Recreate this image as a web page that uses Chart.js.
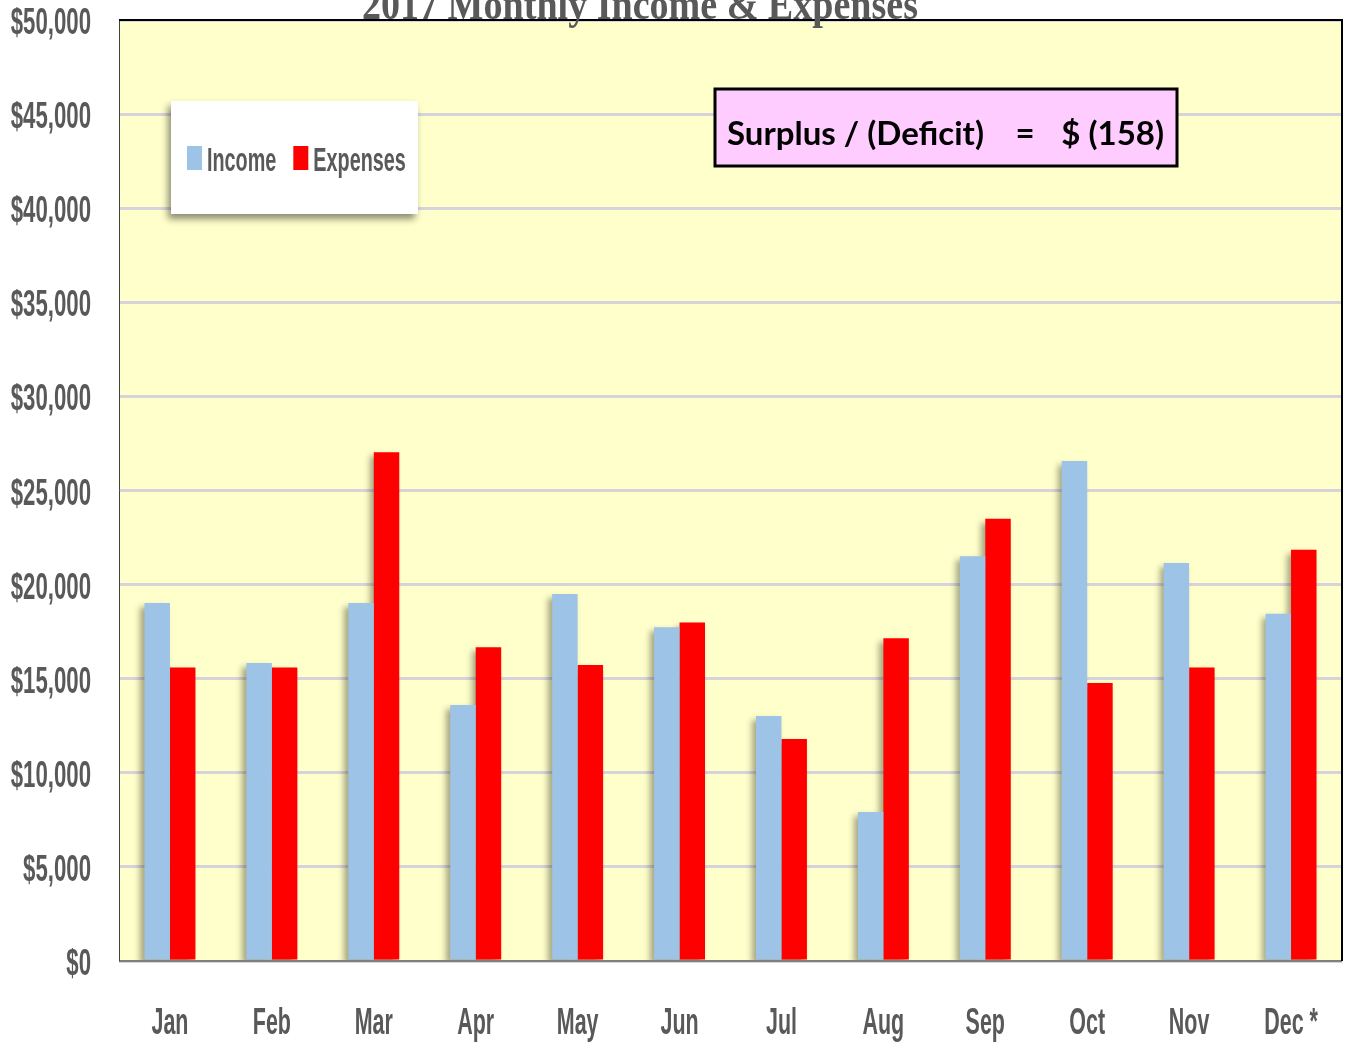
<!DOCTYPE html>
<html>
<head>
<meta charset="utf-8">
<script src="https://cdn.jsdelivr.net/npm/chart.js@4.4.0/dist/chart.umd.min.js"></script>
<style>
  body { margin: 0; background: #fff; }
  #wrap { width: 1345px; height: 1042px; position: relative; }
</style>
</head>
<body>
<div id="wrap"><canvas id="chart" width="1345" height="1042"></canvas></div>
<script>
// data
const months = ["Jan", "Feb", "Mar", "Apr", "May", "Jun", "Jul", "Aug", "Sep", "Oct", "Nov", "Dec *"];
const income = [19020, 15830, 19020, 13600, 19500, 17730, 13020, 7920, 21500, 26570, 21150, 18450];
const expenses = [15600, 15600, 27030, 16670, 15730, 17980, 11800, 17150, 23500, 14770, 15600, 21850];
const yMax = 50000;
const yStep = 5000;
const titleText = "2017 Monthly Income & Expenses";
const noteLeft = "Surplus / (Deficit)";
const noteRight = "$ (158)";

const GRAY = "#595959";
const LABEL_FONT = "'Liberation Sans', Arial, sans-serif";

// condensed text helper (the original uses a tall narrow face)
function squeezeText(ctx, txt, x, y, align, size, sx, weight) {
  ctx.save();
  ctx.font = (weight || "bold") + " " + size + "px " + LABEL_FONT;
  const w = ctx.measureText(txt).width * sx;
  let left = x;
  if (align === "center") left = x - w / 2;
  if (align === "right") left = x - w;
  ctx.translate(left, y);
  ctx.scale(sx, 1);
  ctx.textAlign = "left";
  ctx.textBaseline = "alphabetic";
  ctx.fillText(txt, 0, 0);
  ctx.restore();
}

// background + bar shadows
const plotBg = {
  id: "plotBg",
  beforeDraw(chart) {
    const { ctx, chartArea: a } = chart;
    ctx.save();
    ctx.fillStyle = "#FFFFCC";
    ctx.fillRect(a.left, a.top, a.right - a.left, a.bottom - a.top);
    ctx.restore();
  },
  beforeDatasetsDraw(chart) {
    const ctx = chart.ctx;
    ctx.save();
    ctx.shadowColor = "rgba(60,60,40,0.45)";
    ctx.shadowBlur = 6;
    ctx.shadowOffsetX = -4;
    ctx.shadowOffsetY = 4;
  },
  afterDatasetsDraw(chart) {
    chart.ctx.restore();
  }
};

// borders, labels, title, legend box, note box
const decor = {
  id: "decor",
  afterDraw(chart) {
    const { ctx, chartArea: a } = chart;
    const xs = chart.scales.x, ys = chart.scales.y;

    ctx.save();
    // plot borders
    ctx.strokeStyle = "#7f7f7f";
    ctx.lineWidth = 2;
    ctx.beginPath(); ctx.moveTo(a.left, a.bottom); ctx.lineTo(a.right, a.bottom); ctx.stroke();
    ctx.strokeStyle = "#404040";
    ctx.lineWidth = 1;
    ctx.beginPath(); ctx.moveTo(a.left + 0.5, a.top); ctx.lineTo(a.left + 0.5, a.bottom); ctx.stroke();
    ctx.strokeStyle = "#000";
    ctx.lineWidth = 2;
    ctx.beginPath(); ctx.moveTo(a.left, a.top); ctx.lineTo(a.right, a.top); ctx.lineTo(a.right, a.bottom); ctx.stroke();

    // tick labels
    ctx.fillStyle = GRAY;
    ys.ticks.forEach((t, i) => {
      squeezeText(ctx, t.label, 91, ys.getPixelForTick(i) + 14, "right", 37, 0.6);
    });
    xs.ticks.forEach((t, i) => {
      squeezeText(ctx, String(t.label), xs.getPixelForTick(i), 1034, "center", 37, 0.58);
    });

    // title (cut off by the top edge)
    ctx.save();
    ctx.font = "bold 44px 'Liberation Serif', 'Times New Roman', serif";
    const tw = ctx.measureText(titleText).width;
    const tsx = 556 / tw;
    ctx.translate(640 - 278, 19);
    ctx.scale(tsx, 1);
    ctx.fillStyle = GRAY;
    ctx.fillText(titleText, 0, 0);
    ctx.restore();

    // legend box
    ctx.save();
    ctx.shadowColor = "rgba(0,0,0,0.45)";
    ctx.shadowBlur = 7;
    ctx.shadowOffsetX = -3;
    ctx.shadowOffsetY = 5;
    ctx.fillStyle = "#fff";
    ctx.fillRect(171, 101, 247, 113);
    ctx.restore();
    let lx = 187;
    chart.data.datasets.forEach(ds => {
      ctx.fillStyle = ds.backgroundColor;
      ctx.fillRect(lx, 146, 15, 24);
      ctx.fillStyle = GRAY;
      ctx.font = "bold 33px " + LABEL_FONT;
      const w = ctx.measureText(ds.label).width * 0.6;
      squeezeText(ctx, ds.label, lx + 20, 171, "left", 33, 0.6);
      lx += 20 + w + 17;
    });

    // surplus / deficit note
    ctx.fillStyle = "#FFCCFF";
    ctx.fillRect(715, 89, 462, 77);
    ctx.strokeStyle = "#000";
    ctx.lineWidth = 3;
    ctx.strokeRect(715, 89, 462, 77);
    ctx.fillStyle = "#000";
    ctx.font = "bold 33px Lato, 'Open Sans', sans-serif";
    ctx.textBaseline = "alphabetic";
    ctx.textAlign = "left";
    ctx.fillText(noteLeft, 727, 145);
    ctx.textAlign = "center";
    ctx.fillText("=", 1025, 145);
    ctx.textAlign = "right";
    ctx.fillText(noteRight, 1164, 145);
    ctx.restore();
  }
};

new Chart(document.getElementById("chart"), {
  type: "bar",
  data: {
    labels: months,
    datasets: [
      { label: "Income", data: income, backgroundColor: "#9DC3E6" },
      { label: "Expenses", data: expenses, backgroundColor: "#FF0000" }
    ]
  },
  options: {
    responsive: false,
    animation: false,
    layout: { padding: { top: 20, right: 3, left: 0, bottom: 0 } },
    datasets: { bar: { categoryPercentage: 0.5, barPercentage: 1 } },
    plugins: {
      legend: { display: false },
      title: { display: false },
      tooltip: { enabled: false }
    },
    scales: {
      x: {
        grid: { display: false },
        border: { display: false },
        ticks: { display: false },
        afterFit: s => { s.height = 81; }
      },
      y: {
        min: 0,
        max: yMax,
        grid: { color: "#D6D3DA", lineWidth: 3, drawTicks: false },
        border: { display: false },
        ticks: {
          display: false,
          stepSize: yStep,
          callback: v => "$" + v.toLocaleString("en-US")
        },
        afterFit: s => { s.width = 119; }
      }
    }
  },
  plugins: [plotBg, decor]
});
</script>
</body>
</html>
